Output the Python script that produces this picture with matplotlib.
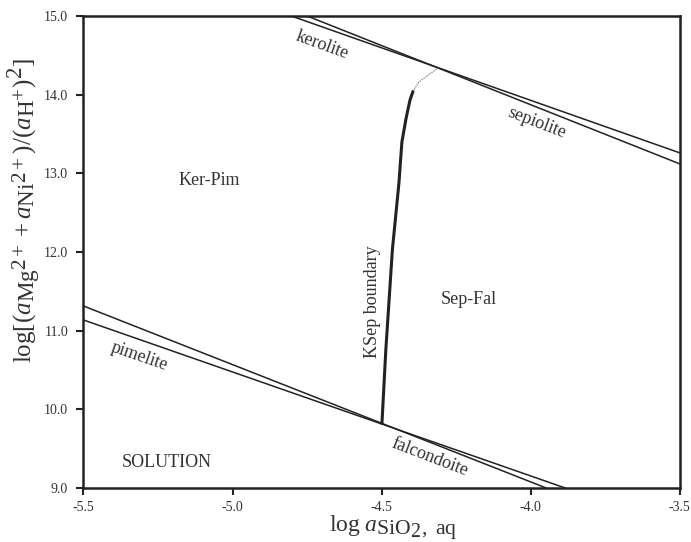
import matplotlib
matplotlib.use("Agg")
import matplotlib.pyplot as plt
import matplotlib._mathtext as mtext

plt.rcParams['font.family'] = ['Liberation Serif', 'DejaVu Serif']
plt.rcParams['mathtext.fontset'] = 'custom'
plt.rcParams['mathtext.rm'] = 'Liberation Serif'
plt.rcParams['mathtext.it'] = 'Liberation Serif:italic'
# the original axis titles use bigger sub/superscripts than mathtext's default
mtext.SHRINK_FACTOR = 0.92

# stability boundaries (end points)
kerolite_x = [-4.803, -3.5]
kerolite_y = [15.0, 13.26]
sepiolite_x = [-4.750, -3.5]
sepiolite_y = [15.0, 13.12]
pimelite_x = [-5.5, -3.884]
pimelite_y = [11.136, 9.0]
falcondoite_x = [-5.5, -3.948]
falcondoite_y = [11.314, 9.0]

# KSep boundary, solid part and dotted extension
ksep_x = [-4.499, -4.486, -4.464, -4.442, -4.432, -4.418, -4.405, -4.395]
ksep_y = [9.82, 10.754, 12.026, 12.877, 13.40, 13.70, 13.93, 14.04]
ksep_dot_x = [-4.395, -4.375, -4.348, -4.31]
ksep_dot_y = [14.04, 14.161, 14.237, 14.34]

xticks = [-5.5, -5.0, -4.5, -4.0, -3.5]
yticks = [9.0, 10.0, 11.0, 12.0, 13.0, 14.0, 15.0]

fig = plt.figure(figsize=(6.91, 5.42), dpi=100)
ax = fig.add_axes([0.1208, 0.0996, 0.863, 0.8709])

for xs, ys in [(kerolite_x, kerolite_y), (sepiolite_x, sepiolite_y),
               (pimelite_x, pimelite_y), (falcondoite_x, falcondoite_y)]:
    ax.plot(xs, ys, color='#222222', lw=1.1)

ax.plot(ksep_x, ksep_y, color='#222222', lw=2.2, solid_capstyle='round')
ax.plot(ksep_dot_x, ksep_dot_y, color='#555555', lw=0.8, ls=(0, (1, 1.2)))

tc = '#333333'
fs = 13
ax.text(-4.700, 14.631, 'kerolite', rotation=-20, ha='center', va='center', fontsize=fs, color=tc)
ax.text(-3.981, 13.64, 'sepiolite', rotation=-21, ha='center', va='center', fontsize=fs, color=tc)
ax.text(-5.311, 10.67, 'pimelite', rotation=-19, ha='center', va='center', fontsize=fs, color=tc)
ax.text(-4.340, 9.39, 'falcondoite', rotation=-21, ha='center', va='center', fontsize=fs, color=tc)
ax.text(-4.532, 11.37, 'KSep boundary', rotation=90, ha='center', va='center', fontsize=fs, color=tc)
ax.text(-5.077, 12.91, 'Ker-Pim', ha='center', va='center', fontsize=fs, color=tc)
ax.text(-4.206, 11.39, 'Sep-Fal', ha='center', va='center', fontsize=fs, color=tc)
ax.text(-5.221, 9.32, 'SOLUTION', ha='center', va='center', fontsize=fs, color=tc)

ax.set_xlim(-5.5, -3.5)
ax.set_ylim(9.0, 15.0)
ax.set_xticks(xticks)
ax.set_yticks(yticks)
ax.set_xticklabels(['%.1f' % v for v in xticks])
ax.set_yticklabels(['%.1f' % v for v in yticks])
ax.tick_params(direction='out', length=5, width=1.5, labelsize=10,
               colors='#222222', labelcolor=tc, pad=6)
ax.tick_params(axis='x', pad=4)
for s in ax.spines.values():
    s.set_linewidth(1.8)
    s.set_color('#222222')

ax.set_xlabel(r'$\mathrm{log}\ a_{\mathrm{SiO}_2\mathrm{,\ aq}}$', fontsize=17, color=tc)
ax.set_ylabel(r'$\mathrm{log}[(a_{\mathrm{Mg}^{2+}} + a_{\mathrm{Ni}^{2+}})/(a_{\mathrm{H}^{+}})^2]$',
              fontsize=18, color=tc)
ax.xaxis.set_label_coords(0.52, -0.085)
ax.yaxis.set_label_coords(-0.099, 0.589)
ax.xaxis.label.set_va('center')
ax.yaxis.label.set_va('center')

fig.savefig('out.png', dpi=100)
